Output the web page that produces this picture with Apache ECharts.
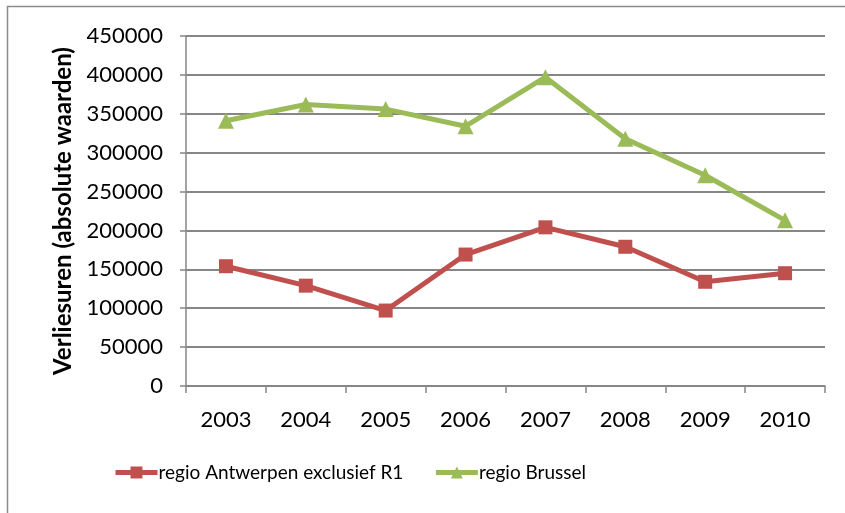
<!DOCTYPE html>
<html>
<head>
<meta charset="utf-8">
<script src="https://cdn.jsdelivr.net/npm/echarts@6/dist/echarts.min.js"></script>
<style>
html,body{margin:0;padding:0;background:#fff;}
#chart{width:845px;height:513px;}
</style>
</head>
<body>
<div id="chart"></div>
<script>
let years = ["2003","2004","2005","2006","2007","2008","2009","2010"];
let antwerpen = [154000,129000,97000,169000,204000,179000,134000,145000];
let brussel = [341000,362000,356000,334000,397000,318000,271000,213000];
let font = "Lato, 'Open Sans', sans-serif";

let myEcharts = echarts.init(document.getElementById("chart"));
let option = {
    animation:false,
    graphic:[{
        type:"rect",
        shape:{x:7.5,y:6.5,width:860,height:520},
        style:{fill:"none",stroke:"#8c8c8c",lineWidth:1.5},
        silent:true
    }],
    grid:{left:186,right:20,top:36,bottom:127},
    legend:{
        bottom:26,
        left:108,
        itemWidth:42,
        itemHeight:15,
        itemGap:30,
        lineStyle:{width:5},
        textStyle:{fontFamily:font,fontSize:19,color:"#000",padding:[0,0,0,-4]},
        data:["regio Antwerpen exclusief R1","regio Brussel"]
    },
    xAxis:{
        type:"category",
        data:years,
        boundaryGap:true,
        axisLine:{lineStyle:{color:"#868686",width:1.5}},
        axisTick:{show:true,length:7,interval:0,lineStyle:{color:"#868686",width:1.5}},
        axisLabel:{fontFamily:font,fontSize:22,color:"#000",margin:23}
    },
    yAxis:{
        type:"value",
        min:0,
        max:450000,
        interval:50000,
        name:"Verliesuren (absolute waarden)",
        nameLocation:"middle",
        nameGap:88,
        nameTextStyle:{fontFamily:font,fontSize:24,fontWeight:"bold",color:"#000"},
        axisLine:{show:true,lineStyle:{color:"#868686",width:1.5}},
        axisTick:{show:true,length:6,lineStyle:{color:"#868686",width:1.5}},
        axisLabel:{fontFamily:font,fontSize:22,color:"#000",margin:23,
            formatter:function (v) { return String(v); }},
        splitLine:{lineStyle:{color:"#868686",width:2}}
    },
    series:[
        {
            name:"regio Antwerpen exclusief R1",
            type:"line",
            data:antwerpen,
            symbol:"rect",
            symbolSize:14,
            color:"#C0504D",
            lineStyle:{width:5,color:"#C0504D"},
            itemStyle:{color:"#C0504D"}
        },
        {
            name:"regio Brussel",
            type:"line",
            data:brussel,
            symbol:"triangle",
            symbolSize:16,
            color:"#9BBB59",
            lineStyle:{width:5,color:"#9BBB59"},
            itemStyle:{color:"#9BBB59"}
        }
    ]
};
myEcharts.setOption(option);
</script>
</body>
</html>
